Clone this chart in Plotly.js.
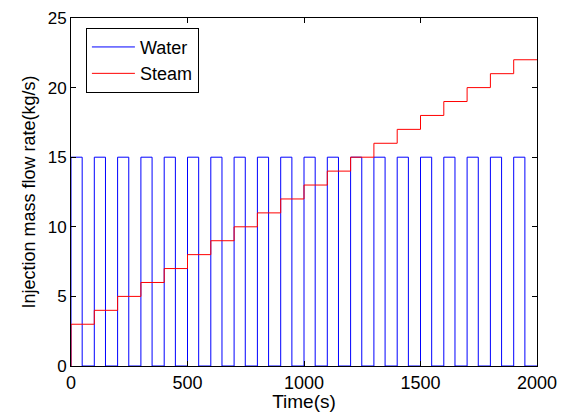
<!DOCTYPE html>
<html>
<head>
<meta charset="utf-8">
<script src="https://cdn.plot.ly/plotly-3.0.1.min.js"></script>
<style>html,body{margin:0;padding:0;background:#fff;}#chart{width:567px;height:412px;}</style>
</head>
<body>
<div id="chart"></div>
<script>
// Water: square pulses (time in s, flow in kg/s), step-wise (hv)
var waterTime = [0, 0, 48, 100, 148, 200, 248, 300, 348, 400, 448, 500, 548, 600, 648, 700, 748, 800, 848, 900, 948,
  1000, 1048, 1100, 1148, 1200, 1248, 1300, 1348, 1400, 1448, 1500, 1548, 1600, 1648, 1700, 1748, 1800, 1848, 1900, 1948, 2000];
var waterFlow = [0, 15, 0, 15, 0, 15, 0, 15, 0, 15, 0, 15, 0, 15, 0, 15, 0, 15, 0, 15, 0,
  15, 0, 15, 0, 15, 0, 15, 0, 15, 0, 15, 0, 15, 0, 15, 0, 15, 0, 15, 0, 0];
// Steam: staircase (hv)
var steamTime = [0, 0, 100, 200, 300, 400, 500, 600, 700, 800, 900, 1000, 1100, 1200, 1300, 1400, 1500, 1600, 1700, 1800, 1900, 2000];
var steamFlow = [0, 3, 4, 5, 6, 7, 8, 9, 10, 11, 12, 13, 14, 15, 16, 17, 18, 19, 20, 21, 22, 22];
var xTicks = [0, 500, 1000, 1500, 2000];
var yTicks = [0, 5, 10, 15, 20, 25];
var seriesNames = ["Water", "Steam"];

var font = "Liberation Sans, Arial, sans-serif";
var traces = [
  {x: waterTime, y: waterFlow, name: seriesNames[0], mode: "lines", line: {color: "#0000ff", width: 1, shape: "hv"}},
  {x: steamTime, y: steamFlow, name: seriesNames[1], mode: "lines", line: {color: "#ff0000", width: 1, shape: "hv"}}
];
var axisCommon = {
  showgrid: false, zeroline: false, showline: true, linecolor: "#000", linewidth: 1, mirror: "ticks",
  ticks: "inside", ticklen: 5, tickcolor: "#000"
};
var layout = {
  width: 567, height: 412,
  margin: {l: 71, r: 30, t: 18, b: 46},
  paper_bgcolor: "#fff", plot_bgcolor: "#fff",
  showlegend: true,
  legend: {x: 0.032, y: 0.972, xanchor: "left", yanchor: "top", bgcolor: "#fff", bordercolor: "#000", borderwidth: 1,
    font: {family: font, size: 18, color: "#000"}, itemwidth: 43, tracegroupgap: 0},
  xaxis: Object.assign({}, axisCommon, {range: [0, 2000], tickvals: xTicks, ticktext: xTicks.map(String),
    tickfont: {family: font, size: 18, color: "#000"},
    title: {text: "Time(s)", font: {family: font, size: 19, color: "#000"}, standoff: 2}}),
  yaxis: Object.assign({}, axisCommon, {range: [0, 25], tickvals: yTicks, ticktext: yTicks.map(String),
    tickfont: {family: font, size: 17, color: "#000"},
    title: {text: "Injection mass flow rate(kg/s)", font: {family: font, size: 18, color: "#000"}, standoff: 7}})
};
Plotly.newPlot("chart", traces, layout, {displayModeBar: false, staticPlot: true});
</script>
</body>
</html>
